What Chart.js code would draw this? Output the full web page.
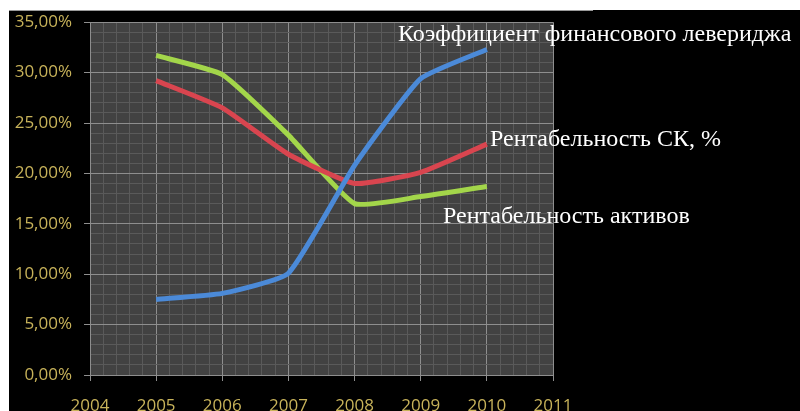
<!DOCTYPE html>
<html>
<head>
<meta charset="utf-8">
<script src="https://cdn.jsdelivr.net/npm/chart.js@4"></script>
<style>
  html, body { margin: 0; padding: 0; background: #fff; }
  canvas { display: block; }
</style>
</head>
<body>
<canvas id="chart" width="800" height="411"></canvas>
<script>
// years on the x axis and the three series (percent)
const years = [2005, 2006, 2007, 2008, 2009, 2010];
const leverage = [7.5, 8.1, 10.1, 20.8, 29.4, 32.3];
const roe = [29.2, 26.5, 21.9, 19.0, 20.1, 22.9];
const roa = [31.7, 29.8, 23.8, 17.0, 17.7, 18.7];

const xMin = 2004, xMax = 2011;
const yMin = 0, yMax = 35;

const seriesNames = [
    'Коэффициент финансового левериджа',
    'Рентабельность СК, %',
    'Рентабельность активов'
];

const tickColor = '#c8b35a';
const majorGrid = '#8e8e8e';
const minorGrid = '#5a5a5a';

function isWhole(v, step) {
    const r = v / step;
    return Math.abs(r - Math.round(r)) < 1e-6;
}

function points(values) {
    return values.map((v, i) => ({ x: years[i], y: v }));
}

// black frame and dark plot area
const backdrop = {
    id: 'backdrop',
    beforeDraw(chart) {
        const ctx = chart.ctx;
        const a = chart.chartArea;
        ctx.save();
        ctx.fillStyle = '#fff';
        ctx.fillRect(0, 0, chart.width, chart.height);
        ctx.fillStyle = '#000';
        ctx.fillRect(9, 10, chart.width - 9, chart.height - 10);
        ctx.fillStyle = '#9a9a9a';
        ctx.fillRect(9, 10, 584, 1);
        ctx.fillStyle = '#424242';
        ctx.fillRect(a.left, a.top, a.right - a.left, a.bottom - a.top);
        ctx.restore();
    }
};

// series captions in white serif
const captions = {
    id: 'captions',
    afterDraw(chart) {
        const ctx = chart.ctx;
        ctx.save();
        ctx.fillStyle = '#fff';
        ctx.font = '24px "Liberation Serif", "Times New Roman", serif';
        ctx.textBaseline = 'alphabetic';
        ctx.fillText(seriesNames[0], 398, 41);
        ctx.fillText(seriesNames[1], 490, 146);
        ctx.fillText(seriesNames[2], 443, 223);
        ctx.restore();
    }
};

new Chart(document.getElementById('chart'), {
    type: 'line',
    data: {
        datasets: [
            { label: seriesNames[0], data: points(leverage), borderColor: '#4b8ad8' },
            { label: seriesNames[1], data: points(roe), borderColor: '#d9454f' },
            { label: seriesNames[2], data: points(roa), borderColor: '#a3d64a' }
        ]
    },
    options: {
        responsive: false,
        animation: false,
        layout: { padding: { left: 9, top: 19, right: 247, bottom: 0 } },
        elements: {
            line: { borderWidth: 5, tension: 0.15, borderCapStyle: 'butt' },
            point: { radius: 0 }
        },
        plugins: {
            legend: { display: false },
            tooltip: { enabled: false }
        },
        scales: {
            x: {
                type: 'linear',
                min: xMin,
                max: xMax,
                afterFit(scale) { scale.height = 36; },
                border: { color: majorGrid },
                grid: {
                    color: c => isWhole(c.tick.value, 1) ? majorGrid : minorGrid,
                    tickColor: c => isWhole(c.tick.value, 1) ? majorGrid : 'rgba(0,0,0,0)',
                    tickLength: 6
                },
                ticks: {
                    stepSize: 0.2,
                    autoSkip: false,
                    maxRotation: 0,
                    padding: 15,
                    color: tickColor,
                    font: { family: '"Open Sans", "Liberation Sans", sans-serif', size: 17 },
                    callback: v => isWhole(v, 1) ? String(Math.round(v)) : ''
                }
            },
            y: {
                min: yMin,
                max: yMax,
                afterFit(scale) { scale.width = 81; },
                border: { color: majorGrid },
                grid: {
                    color: c => isWhole(c.tick.value, 5) ? majorGrid : minorGrid,
                    tickColor: c => isWhole(c.tick.value, 5) ? majorGrid : 'rgba(0,0,0,0)',
                    tickLength: 6
                },
                ticks: {
                    stepSize: 1,
                    autoSkip: false,
                    padding: 12,
                    color: tickColor,
                    font: { family: '"Open Sans", "Liberation Sans", sans-serif', size: 17 },
                    callback: v => isWhole(v, 5) ? v.toFixed(2).replace('.', ',') + '%' : ''
                }
            }
        }
    },
    plugins: [backdrop, captions]
});
</script>
</body>
</html>
